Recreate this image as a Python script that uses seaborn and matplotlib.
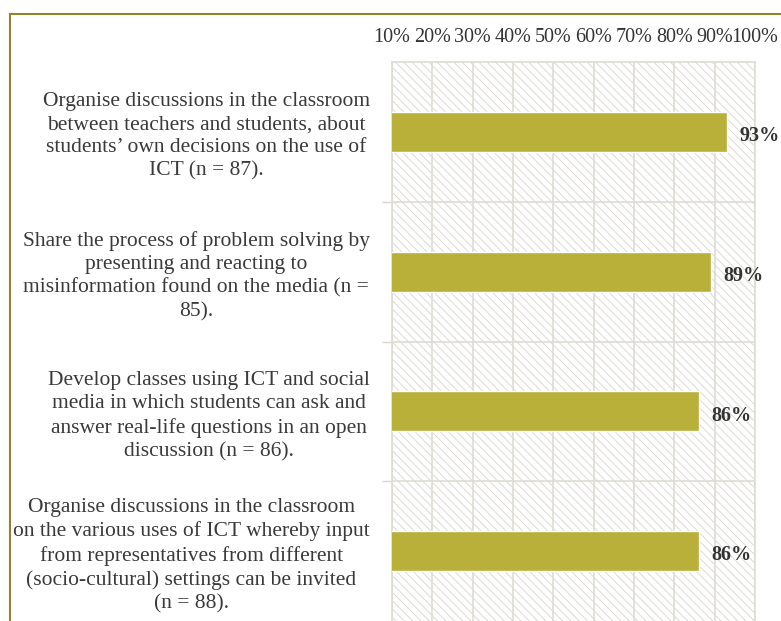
import matplotlib
matplotlib.use("Agg")
import matplotlib.pyplot as plt
import seaborn as sns
import pandas as pd
from matplotlib.patches import Rectangle

categories = [
    "Organise discussions in the classroom\nbetween teachers and students, about\nstudents\u2019 own decisions on the use of\nICT (n = 87).",
    "Share the process of problem solving by\npresenting and reacting to\nmisinformation found on the media (n =\n85).",
    "Develop classes using ICT and social\nmedia in which students can ask and\nanswer real-life questions in an open\ndiscussion (n = 86).",
    "Organise discussions in the classroom\non the various uses of ICT whereby input\nfrom representatives from different\n(socio-cultural) settings can be invited\n(n = 88).",
]
values = [93, 89, 86, 86]
tick_values = [10, 20, 30, 40, 50, 60, 70, 80, 90, 100]
tick_labels = ["10%", "20%", "30%", "40%", "50%", "60%", "70%", "80%", "90%", "100%"]

df = pd.DataFrame({"cat": categories, "val": values})

sns.set_theme(style="white")
plt.rcParams["font.family"] = ["Liberation Serif", "DejaVu Serif"]
plt.rcParams["hatch.linewidth"] = 0.7
plt.rcParams["hatch.color"] = "#dcdad2"

W, H = 781, 621
fig = plt.figure(figsize=(W / 100, H / 100), dpi=100)
ax = fig.add_axes([392 / W, 0.0, (755 - 392) / W, (621 - 62) / H])

bg = Rectangle((0, 0), 1, 1, transform=ax.transAxes, facecolor="white",
               edgecolor="#dcdad2", hatch="\\\\\\\\", lw=0, zorder=0)
ax.add_patch(bg)

sns.barplot(data=df, x="val", y="cat", orient="h", color="#b9b03a",
            saturation=1, width=0.285, ax=ax, zorder=3)

ax.set_xlim(10, 100)
ax.set_ylim(3.5, -0.5)
ax.set_xticks(tick_values)
ax.set_xticklabels(tick_labels, fontsize=14.5, color="#333333")
ax.xaxis.tick_top()
ax.tick_params(axis="x", length=0, pad=11)
ax.set_xlabel("")
ax.set_ylabel("")

ax.set_yticks(range(len(categories)))
ax.set_yticklabels(categories, fontsize=15.5, color="#3a3a3a",
                   multialignment="center", linespacing=1.3)
ax.tick_params(axis="y", which="major", length=0, pad=16)
ax.set_yticks([0.5, 1.5, 2.5], minor=True)
ax.tick_params(axis="y", which="minor", length=7, width=1, color="#d8d6ce", left=True)

for x in tick_values:
    ax.axvline(x, color="#dedcd4", lw=1.2, zorder=1)
for y in [0.5, 1.5, 2.5]:
    ax.axhline(y, color="#dedcd4", lw=1.2, zorder=1)

for s in ["top", "left", "right"]:
    ax.spines[s].set_color("#dedcd4")
    ax.spines[s].set_linewidth(1.2)
ax.spines["bottom"].set_visible(False)

for i, v in enumerate(values):
    ax.annotate(f"{v}%", xy=(v, i), xytext=(9, -3), textcoords="offset points",
                ha="left", va="center", fontsize=14.5, fontweight="bold",
                color="#333333", annotation_clip=False, zorder=5)

frame = Rectangle((10 / W, -0.1), 1.2, (H - 14) / H + 0.1, transform=fig.transFigure,
                  fill=False, edgecolor="#8c8628", lw=1.5, clip_on=False)
fig.add_artist(frame)

fig.savefig("out.png", dpi=100)
